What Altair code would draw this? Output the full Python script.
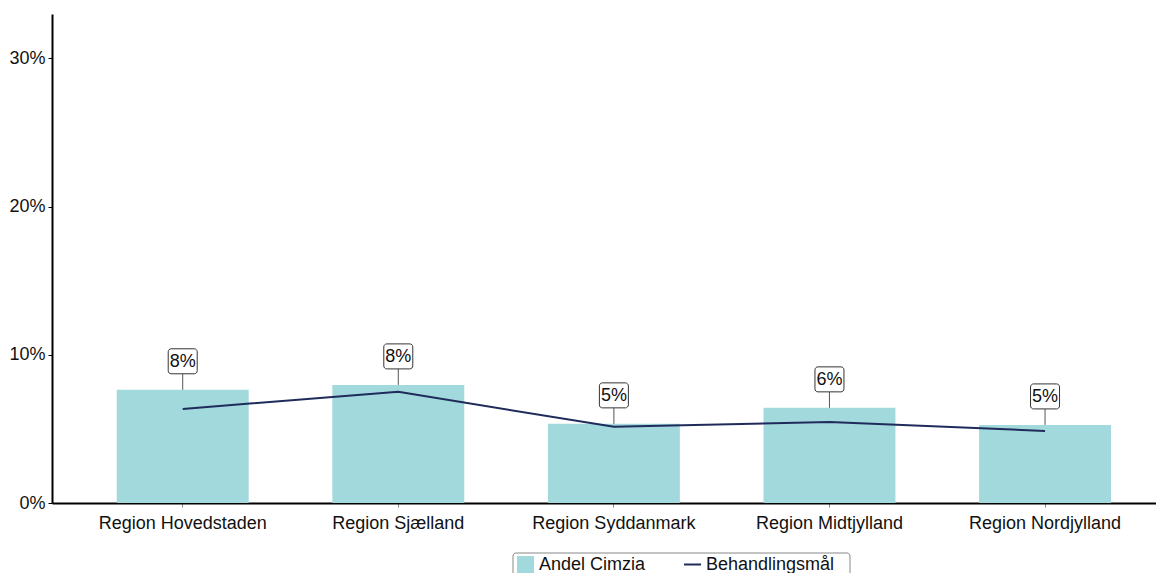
import altair as alt
import pandas as pd

regions = ["Region Hovedstaden", "Region Sjælland", "Region Syddanmark",
           "Region Midtjylland", "Region Nordjylland"]
andel = [0.0764, 0.0797, 0.0534, 0.0642, 0.0527]
maal = [0.0635, 0.0750, 0.0514, 0.0547, 0.0486]
labels = ["8%", "8%", "5%", "6%", "5%"]
series = ["Andel Cimzia", "Behandlingsmål"]
colors = ["#a2d9dc", "#1f2b5b"]

df = pd.DataFrame({"region": regions, "andel": andel, "maal": maal,
                   "label": labels, "s_bar": series[0], "s_line": series[1]})

FONT = "Liberation Sans"
FS = 18

xscale = alt.Scale(paddingInner=0.388, paddingOuter=0.2545, align=0.59)
yscale = alt.Scale(domain=[0, 0.33], nice=False)

x = alt.X("region:N", sort=regions, scale=xscale, title=None,
          axis=alt.Axis(labelAngle=0, labelFontSize=FS, labelColor="#111",
                        labelFont=FONT, domainColor="#000", domainWidth=2,
                        tickColor="#888", tickSize=4, labelPadding=7))


def leg(symbol, lx):
    return alt.Legend(
        title=None, orient="none", legendX=lx, legendY=541,
        direction="horizontal", labelFontSize=FS, labelFont=FONT,
        labelColor="#111", symbolSize=289, symbolType=symbol,
        symbolStrokeWidth=2, labelOffset=4, padding=0)


base = alt.Chart(df)

bars = base.mark_bar().encode(
    x=x,
    y=alt.Y("andel:Q", scale=yscale, title=None,
            axis=alt.Axis(format=".0%", values=[0, 0.1, 0.2, 0.3], grid=False,
                          labelFontSize=FS, labelFont=FONT, labelColor="#111",
                          domainColor="#000", domainWidth=2, tickColor="#000",
                          tickSize=4, labelPadding=3)),
    fill=alt.Fill("s_bar:N", scale=alt.Scale(domain=[series[0]], range=[colors[0]]),
                  legend=leg("square", 464)),
)

line = base.mark_line(strokeWidth=2).encode(
    x=alt.X("region:N", sort=regions),
    y=alt.Y("maal:Q"),
    stroke=alt.Stroke("s_line:N", scale=alt.Scale(domain=[series[1]], range=[colors[1]]),
                      legend=leg("stroke", 631)),
)

leader = base.mark_rule(color="#555", strokeWidth=1, y2Offset=-16).encode(
    x=alt.X("region:N", sort=regions),
    y=alt.Y("andel:Q"),
    y2=alt.Y2("andel"),
)

box = base.mark_bar(width=29, fill="white", stroke="#333", strokeWidth=1,
                    cornerRadius=3, yOffset=-16, y2Offset=-41).encode(
    x=alt.X("region:N", sort=regions),
    y=alt.Y("andel:Q"),
    y2=alt.Y2("andel"),
)

txt = base.mark_text(fontSize=FS, font=FONT, color="#111", baseline="middle",
                     dy=-28).encode(
    x=alt.X("region:N", sort=regions),
    y=alt.Y("andel:Q"),
    text="label:N",
)

legend_box = alt.Chart(pd.DataFrame({"k": [0]})).mark_rect(
    fill="white", fillOpacity=0, stroke="#888", strokeWidth=1, cornerRadius=3
).encode(x=alt.value(461), x2=alt.value(798), y=alt.value(539), y2=alt.value(590))

chart = alt.layer(bars, line, leader, box, txt, legend_box).resolve_scale(
    fill="independent", stroke="independent"
).properties(
    width=1104, height=489,
    autosize=alt.AutoSizeParams(type="none"),
    padding={"left": 44, "top": 6, "right": 0, "bottom": 70},
).configure_view(stroke=None).configure_axis(grid=False)

chart.save("out.html", embed_options={"renderer": "svg", "actions": False})
